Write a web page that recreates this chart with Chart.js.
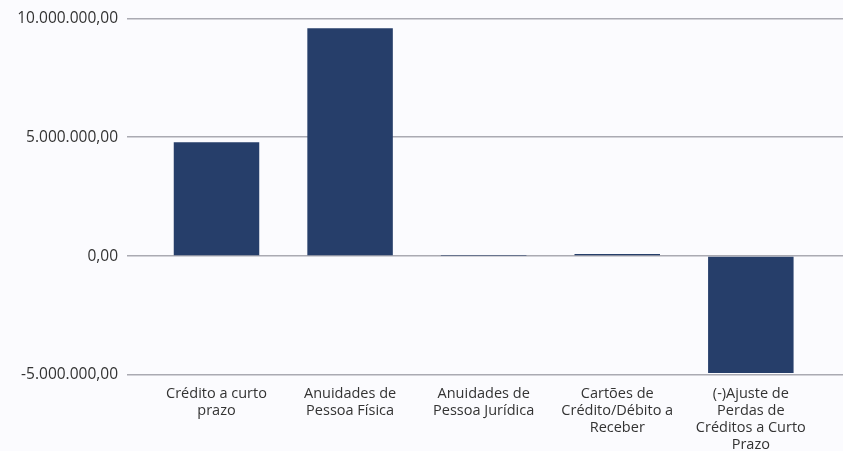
<!DOCTYPE html>
<html>
<head>
<meta charset="utf-8">
<script src="https://cdn.jsdelivr.net/npm/chart.js@4"></script>
<style>
  html, body { margin: 0; padding: 0; background: #fbfbfe; }
  #wrap { width: 843px; height: 451px; }
</style>
</head>
<body>
<div id="wrap"><canvas id="chart"></canvas></div>
<script>
// ----- Data -----
const categories = [
  ['Crédito a curto', 'prazo'],
  ['Anuidades de', 'Pessoa Física'],
  ['Anuidades de', 'Pessoa Jurídica'],
  ['Cartões de', 'Crédito/Débito a', 'Receber'],
  ['(-)Ajuste de', 'Perdas de', 'Créditos a Curto', 'Prazo']
];
const values = [4790000, 9580000, 15000, 90000, -4920000];
const yTicks = [-5000000, 0, 5000000, 10000000];

// brazilian number format: 10.000.000,00
function fmtBR(v) {
  const neg = v < 0;
  const parts = Math.abs(v).toFixed(2).split('.');
  const int = parts[0].replace(/\B(?=(\d{3})+(?!\d))/g, '.');
  return (neg ? '-' : '') + int + ',' + parts[1];
}

new Chart(document.getElementById('chart'), {
  type: 'bar',
  data: {
    datasets: [{
      data: values.map((v, i) => ({ x: i, y: v })),
      backgroundColor: '#263e6a',
      categoryPercentage: 1,
      barPercentage: 0.64
    }]
  },
  options: {
    responsive: true,
    maintainAspectRatio: false,
    animation: false,
    layout: { padding: { top: 17, right: 0, bottom: 0, left: 0 } },
    plugins: { legend: { display: false }, tooltip: { enabled: false } },
    scales: {
      x: {
        type: 'linear',
        offset: false,
        min: -0.67,
        max: 4.69,
        grid: { display: false, drawTicks: false },
        border: { display: false },
        afterBuildTicks: axis => { axis.ticks = categories.map((_, i) => ({ value: i })); },
        afterFit: axis => { axis.height = 76; },
        ticks: {
          autoSkip: false,
          maxRotation: 0,
          color: '#333',
          font: { family: 'Open Sans', size: 14.5, lineHeight: '17px' },
          padding: 10,
          callback: v => categories[v]
        }
      },
      y: {
        min: yTicks[0],
        max: yTicks[yTicks.length - 1],
        afterBuildTicks: axis => { axis.ticks = yTicks.map(v => ({ value: v })); },
        afterFit: axis => { axis.width = 127; },
        grid: { color: '#aaaab2', lineWidth: 1.5, drawTicks: false },
        border: { display: false },
        ticks: {
          color: '#333',
          font: { family: 'Open Sans', size: 15.5 },
          padding: 9,
          callback: v => fmtBR(v)
        }
      }
    }
  }
});
</script>
</body>
</html>
